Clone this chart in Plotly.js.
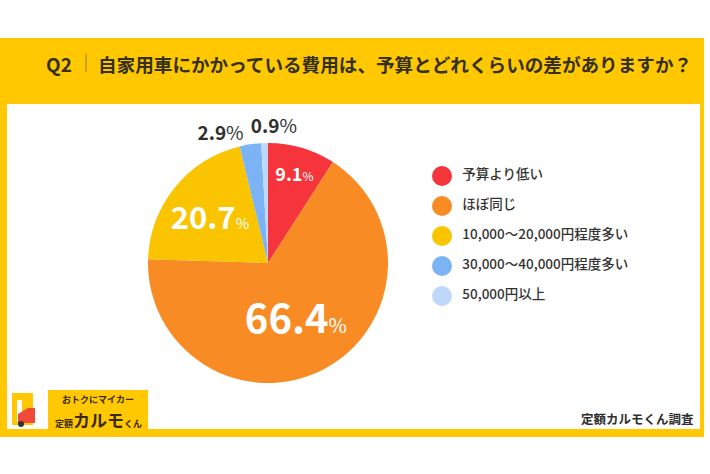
<!DOCTYPE html>
<html>
<head>
<meta charset="utf-8">
<script src="https://cdn.plot.ly/plotly-3.0.1.min.js"></script>
<style>html,body{margin:0;padding:0;background:#fff;}#chart{width:710px;height:474px;}</style>
</head>
<body>
<div id="chart"></div>
<script>
// ---- data ----
const categories = ['予算より低い', 'ほぼ同じ', '10,000〜20,000円程度多い', '30,000〜40,000円程度多い', '50,000円以上'];
const values = [9.1, 66.4, 20.7, 2.9, 0.9];
const sliceColors = ['#F5343B', '#F98B24', '#FAC400', '#7CB3F5', '#BFD8FA'];
const titleText = '自家用車にかかっている費用は、予算とどれくらいの差がありますか？';
const questionNo = 'Q2';
const sourceText = '定額カルモくん調査';

// ---- helpers (pixel -> paper) ----
const W = 710, H = 474;
const px = x => x / W;
const py = y => 1 - y / H;
const FONT = 'Noto Sans CJK JP, Open Sans, sans-serif';

const textSizes = [18, 40, 40, 19, 19];
const pctSizes = [12, 20, 19, 19, 19];
const textColors = ['#ffffff', '#ffffff', '#ffffff', '#2f2f2f', '#2f2f2f'];
const label = (v, i) => '<b>' + v.toFixed(1) + '</b><span style="font-size:' + pctSizes[i] + 'px">%</span>';

// main pie: all slices, labels for the first four
const pie = {
  type: 'pie',
  values: values,
  labels: categories,
  sort: false,
  direction: 'clockwise',
  rotation: 0,
  marker: { colors: sliceColors, line: { width: 0 } },
  texttemplate: values.map((v, i) => i < 4 ? label(v, i) : ''),
  textposition: values.map((v, i) => i < 3 ? 'inside' : (i === 3 ? 'outside' : 'none')),
  insidetextorientation: 'horizontal',
  textfont: { size: textSizes, color: textColors, family: FONT },
  outsidetextfont: { size: 19, color: '#2f2f2f', family: FONT },
  hoverinfo: 'none',
  showlegend: false,
  automargin: false,
  domain: { x: [px(148), px(388)], y: [py(383), py(143)] }
};

// transparent overlay pie carrying only the smallest slice's outside label
const pieLabel = {
  type: 'pie',
  values: values,
  labels: categories,
  sort: false,
  direction: 'clockwise',
  rotation: 5,
  marker: { colors: values.map(() => 'rgba(0,0,0,0)'), line: { width: 0 } },
  texttemplate: values.map((v, i) => i === 4 ? label(v, i) : ''),
  textposition: values.map((v, i) => i === 4 ? 'outside' : 'none'),
  outsidetextfont: { size: 19, color: '#2f2f2f', family: FONT },
  hoverinfo: 'none',
  showlegend: false,
  automargin: false,
  domain: { x: [px(117), px(357)], y: [py(378), py(138)] }
};

const legendTrace = {
  type: 'scatter',
  mode: 'markers+text',
  x: categories.map(() => 0),
  y: categories,
  text: categories.map(c => '\u2002' + c),
  textposition: 'middle right',
  textfont: { size: 13.5, color: '#333333', family: FONT, weight: 500 },
  marker: { size: 20, color: sliceColors, symbol: 'circle' },
  xaxis: 'x2', yaxis: 'y2',
  hoverinfo: 'none',
  showlegend: false,
  cliponaxis: false
};

const shapes = [
  { type: 'rect', xref: 'paper', yref: 'paper', x0: px(0), x1: px(704), y0: py(437), y1: py(38), fillcolor: '#FFC800', line: { width: 0 }, layer: 'below' },
  { type: 'rect', xref: 'paper', yref: 'paper', x0: px(7), x1: px(700), y0: py(429), y1: py(104), fillcolor: '#ffffff', line: { width: 0 }, layer: 'below' },
  { type: 'line', xref: 'paper', yref: 'paper', x0: px(86), x1: px(86), y0: py(72), y1: py(54), line: { color: '#9a7a20', width: 1 } },
  { type: 'rect', xref: 'paper', yref: 'paper', x0: px(48), x1: px(148), y0: py(432), y1: py(390), fillcolor: '#FFC800', line: { width: 0 } },
  { type: 'rect', xref: 'paper', yref: 'paper', x0: px(12), x1: px(33), y0: py(425), y1: py(393), fillcolor: '#FFC800', line: { width: 0 } },
  { type: 'rect', xref: 'paper', yref: 'paper', x0: px(17), x1: px(22), y0: py(422), y1: py(400), fillcolor: '#ffffff', line: { width: 0 } },
  { type: 'path', xref: 'paper', yref: 'paper', path: 'M ' + px(18) + ' ' + py(423) + ' L ' + px(35) + ' ' + py(423) + ' L ' + px(35) + ' ' + py(408) + ' L ' + px(28) + ' ' + py(408) + ' L ' + px(18) + ' ' + py(414) + ' Z', fillcolor: '#F04A3A', line: { width: 0 } },
  { type: 'circle', xref: 'paper', yref: 'paper', x0: px(18), x1: px(24), y0: py(427), y1: py(421), fillcolor: '#333333', line: { width: 0 } }
];

const annotations = [
  { xref: 'paper', yref: 'paper', x: px(59), y: py(63), text: '<b>' + questionNo + '</b>', showarrow: false, xanchor: 'center', yanchor: 'middle',
    font: { size: 19, color: '#35301f', family: FONT } },
  { xref: 'paper', yref: 'paper', x: px(96), y: py(63), text: '<b>' + titleText + '</b>', showarrow: false, xanchor: 'left', yanchor: 'middle',
    font: { size: 18.6, color: '#35301f', family: FONT } },
  { xref: 'paper', yref: 'paper', x: px(696), y: py(418), text: '<b>' + sourceText + '</b>', showarrow: false, xanchor: 'right', yanchor: 'middle',
    font: { size: 12.5, color: '#2f2f2f', family: FONT } },
  { xref: 'paper', yref: 'paper', x: px(98), y: py(399), text: '<b>おトクにマイカー</b>', showarrow: false, xanchor: 'center', yanchor: 'middle',
    font: { size: 9, color: '#3a2a10', family: FONT } },
  { xref: 'paper', yref: 'paper', x: px(98), y: py(419), text: '<b><span style="font-size:9px">定額</span>カルモ<span style="font-size:9px">くん</span></b>', showarrow: false, xanchor: 'center', yanchor: 'middle',
    font: { size: 17, color: '#3a2a10', family: FONT } }
];

const layout = {
  width: W, height: H,
  margin: { l: 0, r: 0, t: 0, b: 0 },
  paper_bgcolor: '#ffffff',
  plot_bgcolor: 'rgba(0,0,0,0)',
  showlegend: false,
  xaxis2: { domain: [px(426), px(700)], range: [-16, 258], visible: false, anchor: 'y2', fixedrange: true },
  yaxis2: { domain: [py(311), py(161)], type: 'category', range: [4.5, -0.5], visible: false, anchor: 'x2', fixedrange: true },
  shapes: shapes,
  annotations: annotations,
  font: { family: FONT }
};

Plotly.newPlot('chart', [pie, pieLabel, legendTrace], layout, { displayModeBar: false, staticPlot: true });
</script>
</body>
</html>
